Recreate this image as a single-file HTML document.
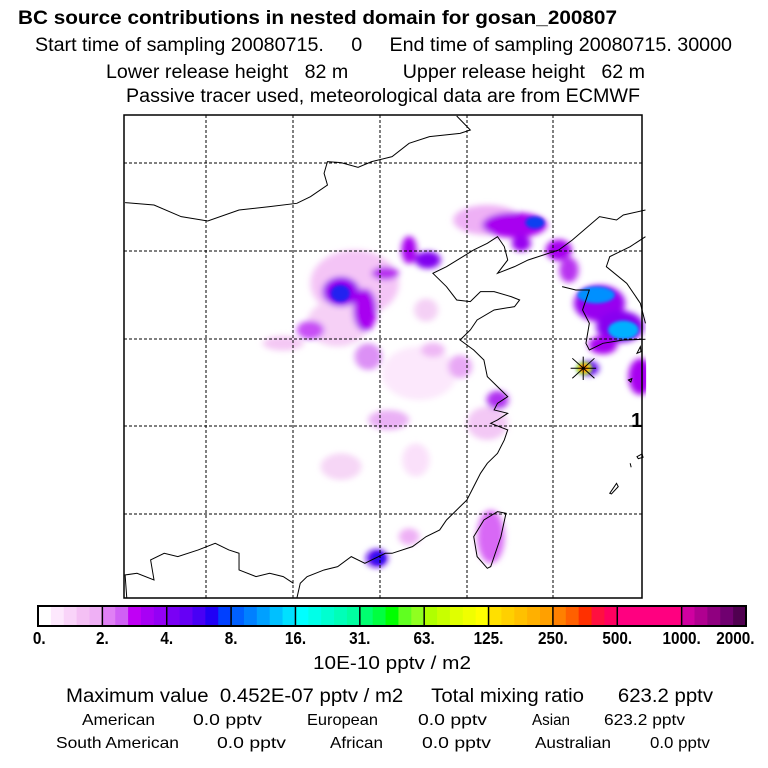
<!DOCTYPE html>
<html><head><meta charset="utf-8"><style>
html,body{margin:0;padding:0;background:#fff;}
svg{display:block;font-family:"Liberation Sans",Arial,sans-serif;}
</style></head><body>
<svg id="chart" width="768" height="768" viewBox="0 0 768 768">
<defs>
<filter id="blur" x="-50%" y="-50%" width="200%" height="200%"><feGaussianBlur stdDeviation="9"/></filter>
<filter id="blur2" x="-50%" y="-50%" width="200%" height="200%"><feGaussianBlur stdDeviation="5"/></filter>
<clipPath id="mapclip"><rect x="12" y="15" width="1535" height="1450"/></clipPath>
</defs>
<g>
<text x="18" y="24" font-size="19" font-weight="bold" textLength="599" lengthAdjust="spacingAndGlyphs">BC  source contributions in nested domain for gosan_200807</text>
<text x="35" y="51" font-size="19" textLength="697" lengthAdjust="spacingAndGlyphs" xml:space="preserve">Start time of sampling 20080715.     0     End time of sampling 20080715. 30000</text>
<text x="106" y="78" font-size="19" textLength="539" lengthAdjust="spacingAndGlyphs" xml:space="preserve">Lower release height   82 m          Upper release height   62 m</text>
<text x="126" y="102" font-size="19" textLength="514" lengthAdjust="spacingAndGlyphs">Passive tracer used, meteorological data are from ECMWF</text>
</g>
<g transform="translate(120,110) scale(0.3401,0.3333)">
<g clip-path="url(#mapclip)">
<g>
<g filter="url(#blur)">
<ellipse cx="690" cy="520" rx="130" ry="100" fill="#f4c4f6"/>
<ellipse cx="640" cy="640" rx="90" ry="70" fill="#f6d0f6"/>
<ellipse cx="880" cy="790" rx="110" ry="80" fill="#fce8fc"/>
<ellipse cx="480" cy="700" rx="60" ry="22" fill="#f4c8f4"/>
<ellipse cx="1080" cy="330" rx="100" ry="45" fill="#eeb0f5"/>
<ellipse cx="1080" cy="940" rx="60" ry="50" fill="#f3c8f5"/>
<ellipse cx="650" cy="1070" rx="60" ry="40" fill="#f6d6f6"/>
<ellipse cx="790" cy="930" rx="60" ry="30" fill="#eab0f5"/>
<ellipse cx="870" cy="1050" rx="40" ry="50" fill="#fae0fa"/>
<ellipse cx="1000" cy="770" rx="35" ry="35" fill="#e8a8f5"/>
<ellipse cx="920" cy="720" rx="35" ry="22" fill="#efb8f5"/>
<ellipse cx="900" cy="600" rx="35" ry="35" fill="#f4d0f5"/>
<ellipse cx="850" cy="1280" rx="30" ry="25" fill="#eeb0f5"/>
<ellipse cx="1090" cy="1280" rx="40" ry="80" fill="#d868f5"/>
<ellipse cx="560" cy="660" rx="40" ry="28" fill="#c850f5"/>
<ellipse cx="730" cy="740" rx="40" ry="40" fill="#dc90f5"/>
<ellipse cx="720" cy="600" rx="35" ry="65" fill="#a800f0"/>
<ellipse cx="650" cy="545" rx="55" ry="45" fill="#9800f0"/>
<ellipse cx="850" cy="420" rx="22" ry="42" fill="#a800f0"/>
<ellipse cx="905" cy="450" rx="38" ry="26" fill="#8000f0"/>
<ellipse cx="780" cy="490" rx="40" ry="20" fill="#b830f0"/>
<ellipse cx="1160" cy="345" rx="95" ry="38" fill="#a800f0"/>
<ellipse cx="1180" cy="400" rx="28" ry="24" fill="#9800f0"/>
<ellipse cx="1290" cy="420" rx="38" ry="32" fill="#a800f0"/>
<ellipse cx="1320" cy="480" rx="28" ry="38" fill="#b830f0"/>
<ellipse cx="1410" cy="580" rx="75" ry="55" fill="#9800f0"/>
<ellipse cx="1470" cy="650" rx="70" ry="48" fill="#8800f0"/>
<ellipse cx="1420" cy="705" rx="42" ry="28" fill="#a800f0"/>
<ellipse cx="1530" cy="800" rx="35" ry="55" fill="#a800f0"/>
<ellipse cx="1110" cy="870" rx="32" ry="28" fill="#b030f0"/>
<ellipse cx="755" cy="1345" rx="32" ry="28" fill="#6010f0"/>
<ellipse cx="1380" cy="775" rx="28" ry="22" fill="#6000f0"/>
</g>
<g filter="url(#blur2)">
<ellipse cx="648" cy="550" rx="28" ry="25" fill="#2020f0"/>
<ellipse cx="1220" cy="338" rx="28" ry="18" fill="#1040f0"/>
<ellipse cx="1400" cy="555" rx="55" ry="25" fill="#0090ff"/>
<ellipse cx="1480" cy="660" rx="45" ry="28" fill="#00b0ff"/>
<ellipse cx="760" cy="1345" rx="20" ry="18" fill="#3010f0"/>
<ellipse cx="1365" cy="775" rx="24" ry="20" fill="#80ff40"/>
<ellipse cx="1365" cy="775" rx="18" ry="15" fill="#ffb000"/>
<ellipse cx="1362" cy="775" rx="10" ry="9" fill="#ff4000"/>
</g>
</g>
<g fill="none" stroke="#000" stroke-width="1">
<path vector-effect="non-scaling-stroke" d="M15 278 L100 285 L180 320 L258 333 L350 300 L440 290 L520 280 L560 260 L610 225 L600 190 L610 155 L650 158 L700 172 L740 155 L800 140 L850 100 L910 80 L1000 70 L1030 60 L990 18"/>
<path vector-effect="non-scaling-stroke" d="M1290 420 L1330 390 L1410 320 L1460 330 L1480 315 L1545 300"/>
<path vector-effect="non-scaling-stroke" d="M1545 380 L1500 410 L1440 440 L1430 470 L1490 520 L1530 580 L1545 640"/>
<path vector-effect="non-scaling-stroke" d="M1300 530 L1340 540 L1380 540 L1360 600 L1380 640 L1370 700 L1380 720 L1420 700 L1480 690 L1545 688"/>
<path vector-effect="non-scaling-stroke" d="M1290 420 L1260 430 L1200 450 L1160 470 L1110 490 L1140 450 L1130 410 L1110 380 L1080 400 L1040 420 L960 470 L920 490 L960 530 L990 570 L1030 575 L1060 545 L1100 545 L1150 560 L1175 570 L1160 590 L1100 600 L1050 630 L1030 660 L1000 690 L1040 720 L1070 750 L1080 800 L1120 840 L1140 860 L1110 880 L1100 900 L1140 910 L1110 930 L1090 940 L1140 960 L1130 990 L1110 1030 L1080 1060 L1060 1090 L1040 1130 L1020 1170 L1000 1190 L960 1230 L940 1260 L900 1280 L860 1310 L800 1330 L780 1330 L740 1350 L720 1360 L680 1340 L640 1370 L600 1380 L550 1400 L530 1420 L520 1465"/>
<path vector-effect="non-scaling-stroke" d="M20 1465 L15 1395 L50 1390 L100 1410 L90 1350 L130 1330 L170 1340 L230 1320 L280 1300 L320 1320 L350 1330 L350 1380 L400 1400 L440 1390 L480 1400 L510 1420"/>
<path vector-effect="non-scaling-stroke" d="M1040 1280 L1070 1230 L1110 1205 L1135 1210 L1120 1280 L1090 1370 L1080 1375 L1050 1340 Z"/>
<path vector-effect="non-scaling-stroke" d="M1440 1150 L1460 1120 L1465 1130 L1445 1152 Z M1520 1040 L1535 1032 L1538 1042 L1524 1046 Z M1495 810 L1505 806 L1502 816 Z M1520 730 L1530 710 L1532 725 Z M1500 1060 L1503 1072"/>
</g>
</g>
<g stroke="#000">
<path vector-effect="non-scaling-stroke" d="M1325 775 L1400 775 M1362 740 L1362 810 M1330 745 L1395 805 M1330 805 L1395 745"/>
</g>
</g>
<g stroke="#000" stroke-width="1" stroke-dasharray="3,2">
<line x1="206" y1="115" x2="206" y2="598"/><line x1="293" y1="115" x2="293" y2="598"/><line x1="380" y1="115" x2="380" y2="598"/><line x1="467" y1="115" x2="467" y2="598"/><line x1="553" y1="115" x2="553" y2="598"/>
<line x1="124" y1="163" x2="642" y2="163"/><line x1="124" y1="251" x2="642" y2="251"/><line x1="124" y1="339" x2="642" y2="339"/><line x1="124" y1="426" x2="642" y2="426"/><line x1="124" y1="514" x2="642" y2="514"/>
</g>
<rect x="124" y="115" width="518" height="483" fill="none" stroke="#000" stroke-width="1.5"/>
<text x="631" y="427" font-size="20" font-weight="bold">1</text>
<g id="colorbar"></g>
<text x="392" y="669" font-size="18" text-anchor="middle" textLength="158" lengthAdjust="spacingAndGlyphs">10E-10 pptv / m2</text>
<g>
<text x="66" y="702" font-size="19" textLength="647" lengthAdjust="spacingAndGlyphs" xml:space="preserve">Maximum value  0.452E-07 pptv / m2     Total mixing ratio      623.2 pptv</text>
<text x="82" y="725" font-size="16" textLength="73" lengthAdjust="spacingAndGlyphs">American</text>
<text x="193" y="725" font-size="16" textLength="69" lengthAdjust="spacingAndGlyphs">0.0 pptv</text>
<text x="307" y="725" font-size="16" textLength="71" lengthAdjust="spacingAndGlyphs">European</text>
<text x="418" y="725" font-size="16" textLength="69" lengthAdjust="spacingAndGlyphs">0.0 pptv</text>
<text x="532" y="725" font-size="16" textLength="38" lengthAdjust="spacingAndGlyphs">Asian</text>
<text x="604" y="725" font-size="16" textLength="81" lengthAdjust="spacingAndGlyphs">623.2 pptv</text>
<text x="56" y="748" font-size="16" textLength="123" lengthAdjust="spacingAndGlyphs">South American</text>
<text x="217" y="748" font-size="16" textLength="69" lengthAdjust="spacingAndGlyphs">0.0 pptv</text>
<text x="330" y="748" font-size="16" textLength="53" lengthAdjust="spacingAndGlyphs">African</text>
<text x="422" y="748" font-size="16" textLength="69" lengthAdjust="spacingAndGlyphs">0.0 pptv</text>
<text x="535" y="748" font-size="16" textLength="76" lengthAdjust="spacingAndGlyphs">Australian</text>
<text x="650" y="748" font-size="16" textLength="60" lengthAdjust="spacingAndGlyphs">0.0 pptv</text>
</g>
</svg>
<script>
const tickLabels = ["0.","2.","4.","8.","16.","31.","63.","125.","250.","500.","1000.","2000."];
const segmentColors = [
 ["#ffffff","#fde8fd","#f9d4f9","#f4c0f4","#efb0f5"],
 ["#e080f5","#d060f5","#c000f5","#a800f5","#9400f5"],
 ["#7a00f5","#6600f5","#4800f5","#2000f5","#0040ff"],
 ["#0060ff","#0080ff","#00a0ff","#00c0ff","#00e0ff"],
 ["#00ffff","#00ffe8","#00ffd0","#00ffb8","#00ffa0"],
 ["#00ff70","#00ff40","#00ff00","#60ff20","#90ff20"],
 ["#b0ff00","#c8ff00","#e0ff00","#f0ff00","#ffff00"],
 ["#ffe000","#ffd000","#ffc000","#ffb000","#ffa000"],
 ["#ff8000","#ff6000","#ff3000","#ff1040","#ff0060"],
 ["#ff0080","#ff0080","#ff0080","#ff0080","#ff0080"],
 ["#d000a0","#b00090","#900080","#700070","#500050"]
];
const NS="http://www.w3.org/2000/svg";
const g=document.getElementById('colorbar');
const x0=38,x1=746,y0=606,h=20;
function xAt(i){return x0+(x1-x0)*i/(tickLabels.length-1);}
segmentColors.forEach((cols,i)=>{
  const w=(xAt(i+1)-xAt(i))/cols.length;
  cols.forEach((c,j)=>{
    const r=document.createElementNS(NS,'rect');
    r.setAttribute('x',xAt(i)+j*w);r.setAttribute('y',y0);
    r.setAttribute('width',w+0.5);r.setAttribute('height',h);r.setAttribute('fill',c);
    
    
    g.appendChild(r);
  });
});
tickLabels.forEach((t,i)=>{
  const l=document.createElementNS(NS,'line');
  l.setAttribute('x1',xAt(i));l.setAttribute('x2',xAt(i));l.setAttribute('y1',y0);l.setAttribute('y2',y0+h);
  l.setAttribute('stroke','#000');l.setAttribute('stroke-width','1.5');
  
  
  g.appendChild(l);
  const tx=document.createElementNS(NS,'text');
  const x=xAt(i);
  tx.setAttribute('x',i===0?x-6:(i===tickLabels.length-1?x+10:x));tx.setAttribute('y',644);
  tx.setAttribute('font-size','18');tx.setAttribute('font-weight','bold');
  tx.setAttribute('text-anchor',i===0?'start':(i===tickLabels.length-1?'end':'middle'));
  tx.setAttribute('transform','translate('+x+',644) scale(0.85,1) translate('+(-x)+',-644)');
  tx.textContent=t;
  
  
  g.appendChild(tx);
});
const fr=document.createElementNS(NS,'rect');
fr.setAttribute('x',x0);fr.setAttribute('y',y0);fr.setAttribute('width',x1-x0);fr.setAttribute('height',h);
fr.setAttribute('fill','none');fr.setAttribute('stroke','#000');fr.setAttribute('stroke-width','2');


g.appendChild(fr);
</script>
</body></html>
